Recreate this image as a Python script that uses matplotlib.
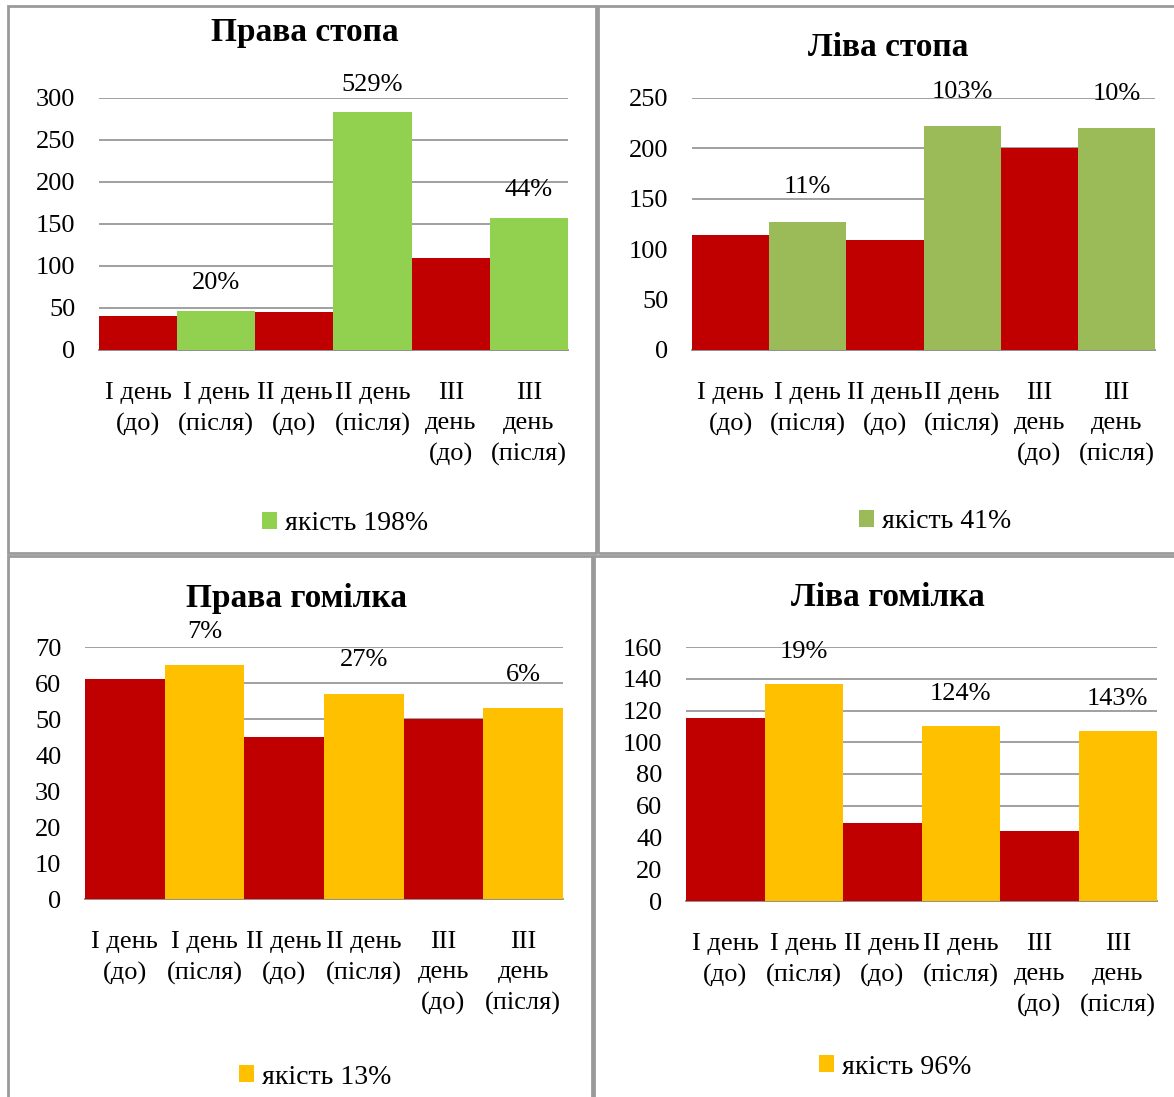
import matplotlib
matplotlib.use('Agg')
import matplotlib.pyplot as plt
from matplotlib.patches import Rectangle

plt.rcParams['font.family'] = ['Liberation Serif', 'DejaVu Serif']

categories = ['I день\n(до)', 'I день\n(після)', 'II день\n(до)', 'II день\n(після)',
              'III\nдень\n(до)', 'III\nдень\n(після)']

right_foot = [40, 47, 45, 283, 109, 157]
left_foot = [114, 127, 109, 222, 200, 220]
right_shin = [61, 65, 45, 57, 50, 53]
left_shin = [115, 137, 49, 110, 44, 107]

right_foot_pct = ['20%', '529%', '44%']
left_foot_pct = ['11%', '103%', '10%']
right_shin_pct = ['7%', '27%', '6%']
left_shin_pct = ['19%', '124%', '143%']

titles = ['Права стопа', 'Ліва стопа', 'Права гомілка', 'Ліва гомілка']
quality = ['якість 198%', 'якість 41%', 'якість 13%', 'якість 96%']

W, H = 1174, 1097
fig = plt.figure(figsize=(W / 100, H / 100), dpi=100)
fig.patch.set_facecolor('white')


def px(x0, y0, x1, y1):
    # pixel box -> figure rect
    return [x0 / W, 1 - y1 / H, (x1 - x0) / W, (y1 - y0) / H]


# panel borders
for (x0, y0, x1, y1) in [(8, 6, 596, 553), (598, 6, 1180, 553),
                         (8, 556, 592, 1100), (594, 556, 1180, 1100)]:
    fig.patches.append(Rectangle((x0 / W, 1 - y1 / H), (x1 - x0) / W, (y1 - y0) / H,
                                 transform=fig.transFigure, fill=False,
                                 edgecolor='#9a9a9a', linewidth=2.0))

panels = [
    (right_foot, right_foot_pct, '#92D050', (0, 300), 50, px(99, 98, 568, 350),
     (305, 33), (345, 524), 20),
    (left_foot, left_foot_pct, '#9BBB59', (0, 250), 50, px(692, 98, 1155, 350),
     (888, 48), (935, 522), 25),
    (right_shin, right_shin_pct, '#FFC000', (0, 70), 10, px(85, 647, 563, 899),
     (297, 598), (315, 1077), 24),
    (left_shin, left_shin_pct, '#FFC000', (0, 160), 20, px(686, 647, 1157, 901),
     (888, 598), (895, 1067), 23),
]

for i, (vals, pcts, color, ylim, step, rect, tpos, lpos, off) in enumerate(panels):
    ax = fig.add_axes(rect)
    xs = list(range(len(vals)))
    before = ax.bar(xs[0::2], vals[0::2], width=1.0, color='#C00000', zorder=3)
    after = ax.bar(xs[1::2], vals[1::2], width=1.0, color=color, zorder=3)
    for bar, txt in zip(after, pcts):
        ax.annotate(txt, (bar.get_x() + bar.get_width() / 2, bar.get_height()),
                    xytext=(0, off), textcoords='offset points',
                    ha='center', va='center', fontsize=19, annotation_clip=False)
    ax.set_xlim(-0.5, len(vals) - 0.5)
    ax.set_ylim(*ylim)
    ax.set_yticks(range(ylim[0], ylim[1] + 1, step))
    ax.set_xticks(xs)
    ax.set_xticklabels(categories, fontsize=19, linespacing=1.5)
    ax.tick_params(axis='y', labelsize=19, length=0, pad=17)
    ax.tick_params(axis='x', length=0, pad=23)
    ax.grid(axis='y', color='#868686', linewidth=1.1, zorder=0)
    for s in ['left', 'right', 'top']:
        ax.spines[s].set_visible(False)
    ax.spines['bottom'].set_color('#868686')
    ax.spines['bottom'].set_linewidth(1.3)
    ax.set_facecolor('none')

    fig.text(tpos[0] / W, 1 - tpos[1] / H, titles[i], ha='center', va='center',
             fontsize=24, fontweight='bold')
    fig.legend([after], [quality[i]], loc='center',
               bbox_to_anchor=(lpos[0] / W, 1 - lpos[1] / H), frameon=False,
               fontsize=20, handlelength=0.55, handleheight=0.55,
               handletextpad=0.3, borderpad=0)

fig.savefig('out.png', dpi=100)
